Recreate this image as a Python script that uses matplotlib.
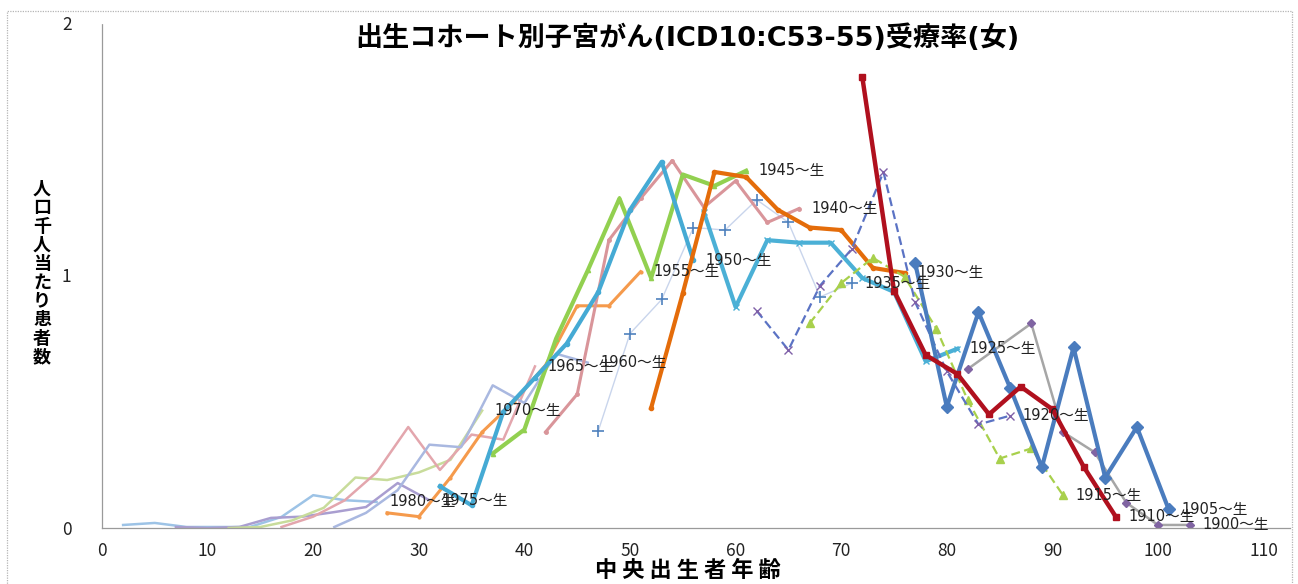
import matplotlib.pyplot as plt
from matplotlib.patches import Rectangle

plt.rcParams['font.family'] = ['Noto Sans CJK JP', 'DejaVu Sans']
LATIN_FIRST = ['DejaVu Sans', 'Noto Sans CJK JP']

# 出生コホート別 受療率 (人口千人当たり), x = 中央出生者年齢
age_1900 = [82, 88, 91, 94, 97, 100, 103]
rate_1900 = [0.63, 0.81, 0.38, 0.30, 0.10, 0.012, 0.012]

age_1905 = [77, 80, 83, 86, 89, 92, 95, 98, 101]
rate_1905 = [1.05, 0.48, 0.855, 0.555, 0.24, 0.715, 0.20, 0.40, 0.075]

age_1910 = [72, 75, 78, 81, 84, 87, 90, 93, 96]
rate_1910 = [1.785, 0.94, 0.685, 0.61, 0.45, 0.56, 0.47, 0.24, 0.045]

age_1915 = [67, 70, 73, 76, 79, 82, 85, 88, 91]
rate_1915 = [0.81, 0.97, 1.07, 0.995, 0.79, 0.505, 0.275, 0.315, 0.13]

age_1920 = [62, 65, 68, 71, 74, 77, 80, 83, 86]
rate_1920 = [0.86, 0.705, 0.96, 1.105, 1.41, 0.895, 0.62, 0.41, 0.445]

age_1925 = [57, 60, 63, 66, 69, 72, 75, 78, 81]
rate_1925 = [1.25, 0.875, 1.14, 1.13, 1.13, 0.99, 0.935, 0.66, 0.71]

age_1930 = [52, 55, 58, 61, 64, 67, 70, 73, 76]
rate_1930 = [0.475, 0.93, 1.41, 1.39, 1.26, 1.19, 1.18, 1.03, 1.01]

age_1935 = [47, 50, 53, 56, 59, 62, 65, 68, 71]
rate_1935 = [0.385, 0.77, 0.905, 1.19, 1.18, 1.30, 1.21, 0.915, 0.97]

age_1940 = [42, 45, 48, 51, 54, 57, 60, 63, 66]
rate_1940 = [0.38, 0.53, 1.14, 1.305, 1.455, 1.27, 1.375, 1.21, 1.265]

age_1945 = [37, 40, 43, 46, 49, 52, 55, 58, 61]
rate_1945 = [0.295, 0.39, 0.75, 1.02, 1.305, 0.99, 1.40, 1.355, 1.415]

age_1950 = [32, 35, 38, 41, 44, 47, 50, 53, 56]
rate_1950 = [0.165, 0.09, 0.46, 0.595, 0.73, 0.935, 1.26, 1.45, 1.06]

age_1955 = [27, 30, 33, 36, 39, 42, 45, 48, 51]
rate_1955 = [0.06, 0.045, 0.20, 0.38, 0.50, 0.645, 0.88, 0.88, 1.015]

age_1960 = [22, 25, 28, 31, 34, 37, 40, 43, 46]
rate_1960 = [0.004, 0.06, 0.15, 0.33, 0.32, 0.565, 0.495, 0.69, 0.655]

age_1965 = [17, 20, 23, 26, 29, 32, 35, 38, 41]
rate_1965 = [0.004, 0.045, 0.11, 0.22, 0.40, 0.23, 0.37, 0.35, 0.64]

age_1970 = [12, 15, 18, 21, 24, 27, 30, 33, 36]
rate_1970 = [0.0, 0.004, 0.03, 0.08, 0.20, 0.19, 0.22, 0.27, 0.465]

age_1975 = [7, 10, 13, 16, 19, 22, 25, 28, 31]
rate_1975 = [0.004, 0.0, 0.004, 0.04, 0.045, 0.063, 0.083, 0.178, 0.11]

age_1980 = [2, 5, 8, 11, 14, 17, 20, 23, 26]
rate_1980 = [0.012, 0.02, 0.004, 0.004, 0.004, 0.044, 0.13, 0.11, 0.103]

x_ticks = [0, 10, 20, 30, 40, 50, 60, 70, 80, 90, 100, 110]
y_ticks = [0, 1, 2]

# drawing order: pale young cohorts first, the red 1910 line on top
series = [
    ('1980', age_1980, rate_1980, dict(color='#9DC3E6', lw=1.8)),
    ('1975', age_1975, rate_1975, dict(color='#A99ED0', lw=1.8)),
    ('1970', age_1970, rate_1970, dict(color='#C8DC9B', lw=1.8)),
    ('1965', age_1965, rate_1965, dict(color='#E3A6AD', lw=1.8)),
    ('1960', age_1960, rate_1960, dict(color='#A9B8E0', lw=1.8)),
    ('1935', age_1935, rate_1935, dict(color='#C9D5EC', lw=1.0, marker='+', ms=8, mec='#4F81BD', mew=1.2)),
    ('1955', age_1955, rate_1955, dict(color='#F59A4C', lw=2.2, marker='o', ms=2)),
    ('1940', age_1940, rate_1940, dict(color='#D9959A', lw=2.2, marker='o', ms=2.5)),
    ('1945', age_1945, rate_1945, dict(color='#92D050', lw=3.0, marker='^', ms=3)),
    ('1950', age_1950, rate_1950, dict(color='#45AAD4', lw=3.0, marker='o', ms=3)),
    ('1925', age_1925, rate_1925, dict(color='#4BB0D6', lw=3.0, marker='x', ms=4)),
    ('1930', age_1930, rate_1930, dict(color='#E46C0A', lw=3.0, marker='o', ms=3)),
    ('1915', age_1915, rate_1915, dict(color='#A8D04C', lw=1.6, ls=(0, (4, 2)), marker='^', ms=6)),
    ('1920', age_1920, rate_1920, dict(color='#5B73C4', lw=1.6, ls=(0, (4, 2)), marker='x', ms=6, mec='#7F60A8')),
    ('1900', age_1900, rate_1900, dict(color='#A6A6A6', lw=1.8, marker='D', ms=4, mfc='#8064A2', mec='#8064A2')),
    ('1905', age_1905, rate_1905, dict(color='#4A7CBE', lw=3.0, marker='D', ms=6)),
    ('1910', age_1910, rate_1910, dict(color='#B0101E', lw=3.2, marker='s', ms=4)),
]

fig = plt.figure(figsize=(12.98, 5.84), dpi=100)
ax = fig.add_axes([102 / 1298, 56 / 584, 1188 / 1298, 505 / 584])

for name, x, y, st in series:
    ax.plot(x, y, **st)
    ax.annotate(name + '～生', xy=(x[-1], y[-1]), xytext=(9, 0),
                textcoords='offset points', ha='left', va='center',
                fontsize=10.5, color='#222222', family=LATIN_FIRST)

ax.set_xlim(0, 112.5)
ax.set_ylim(0, 2)
ax.set_xticks(x_ticks)
ax.set_yticks(y_ticks)
ax.tick_params(axis='x', length=0, pad=10, labelsize=12.5, colors='#222222')
ax.tick_params(axis='y', length=0, pad=22, labelsize=12.5, colors='#222222')
for side in ['top', 'right']:
    ax.spines[side].set_visible(False)
for side in ['left', 'bottom']:
    ax.spines[side].set_color('#9A9A9A')
    ax.spines[side].set_linewidth(0.9)
    ax.spines[side].set_linestyle((0, (1, 1)))

fig.text(687 / 1298, 1 - 38 / 584, '出生コホート別子宮がん(ICD10:C53-55)受療率(女)',
         ha='center', va='center', fontsize=19.5, fontweight='bold', family=LATIN_FIRST)
fig.text(42 / 1298, 1 - 273 / 584, '\n'.join('人口千人当たり患者数'),
         ha='center', va='center', fontsize=13, fontweight='bold', linespacing=0.98)
fig.text(688 / 1298, 1 - 570 / 584, ' '.join('中央出生者年齢'),
         ha='center', va='center', fontsize=16, fontweight='bold')

# outer chart border
fig.add_artist(Rectangle((7 / 1298, -0.05), 1285 / 1298, 1.05 - 11 / 584,
                         transform=fig.transFigure, fill=False,
                         edgecolor='#B5B5B5', lw=0.9, ls=(0, (1, 1))))

fig.savefig('out.png', dpi=100)
